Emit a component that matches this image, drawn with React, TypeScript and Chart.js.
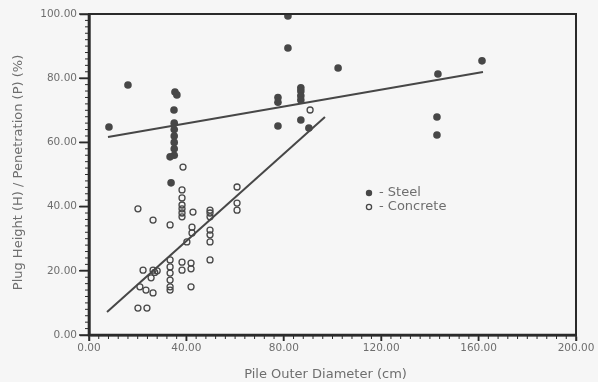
import React, { useEffect, useRef } from 'react';
import { Chart, registerables } from 'chart.js';

Chart.register(...registerables);

// ---- data ----
const steelX = [8.2, 16.0, 35.3, 36.1, 34.9, 35.0, 35.0, 35.0, 35.0, 35.0, 35.0, 33.3, 33.7, 81.7, 81.7, 102.3, 77.6, 77.6, 87.0, 87.0, 87.0, 87.0, 77.6, 87.0, 90.3, 161.4, 143.3, 142.9, 142.9];
const steelY = [64.8, 77.9, 75.7, 74.8, 70.1, 66.0, 64.0, 62.0, 60.0, 58.0, 56.0, 55.5, 47.4, 99.4, 89.4, 83.2, 74.0, 72.5, 77.0, 76.0, 74.5, 73.2, 65.1, 67.0, 64.5, 85.4, 81.3, 67.9, 62.3];

const concreteX = [20.1, 26.3, 33.3, 38.6, 38.2, 38.2, 38.2, 38.2, 38.2, 38.2, 42.7, 42.3, 42.3, 40.2, 49.7, 49.7, 49.7, 49.7, 49.7, 49.7, 49.7, 38.2, 38.2, 41.9, 41.9, 41.9, 33.3, 33.3, 33.3, 33.3, 33.3, 33.3, 22.2, 26.3, 25.5, 27.0, 28.0, 20.9, 23.4, 26.3, 20.1, 23.8, 60.8, 60.8, 60.8, 90.8];
const concreteY = [39.3, 35.8, 34.3, 52.3, 45.2, 42.7, 40.5, 39.3, 38.0, 36.8, 38.3, 33.6, 31.8, 29.0, 38.9, 38.0, 36.8, 32.7, 31.2, 29.0, 23.4, 22.7, 20.2, 22.4, 20.6, 15.0, 23.4, 21.2, 19.3, 17.1, 15.0, 14.0, 20.2, 20.2, 17.8, 19.5, 20.0, 15.0, 14.0, 13.1, 8.4, 8.4, 46.1, 41.1, 38.9, 70.1];

const steelFitX = [7.8, 161.8];
const steelFitY = [61.7, 81.9];
const concreteFitX = [7.4, 96.9];
const concreteFitY = [7.2, 67.9];

const xMin = 0;
const xMax = 200;
const xMajorStep = 40;
const xMinorStep = 4;
const yMin = 0;
const yMax = 100;
const yMajorStep = 20;
const yMinorStep = 2;

const xTitle = 'Pile Outer Diameter (cm)';
const yTitle = 'Plug Height (H) / Penetration (P) (%)';
const legendLabels = ['- Steel', '- Concrete'];

const INK = '#474747';
const AXIS = '#2a2a2a';
const TEXT = '#6e6e6e';
const BG = '#f6f6f6';
const FONT = '"DejaVu Sans", sans-serif';

const toPoints = (xs: number[], ys: number[]) => xs.map((x, i) => ({ x, y: ys[i] }));

const decorPlugin = {
  id: 'decor',
  beforeDraw(chart: any) {
    const ctx = chart.ctx;
    ctx.save();
    ctx.fillStyle = BG;
    ctx.fillRect(0, 0, chart.width, chart.height);
    ctx.restore();
  },
  afterDraw(chart: any) {
    const ctx = chart.ctx;
    const { left, right, top, bottom } = chart.chartArea;
    const xs = chart.scales.x;
    const ys = chart.scales.y;

    // y title
    ctx.save();
    ctx.font = `13px ${FONT}`;
    ctx.fillStyle = TEXT;
    ctx.textAlign = 'center';
    ctx.textBaseline = 'middle';
    ctx.translate(19, (top + bottom) / 2 - 2);
    ctx.rotate(-Math.PI / 2);
    ctx.fillText(yTitle, 0, 0);
    ctx.restore();

    // x title
    ctx.save();
    ctx.font = `13px ${FONT}`;
    ctx.fillStyle = TEXT;
    ctx.textAlign = 'center';
    ctx.textBaseline = 'middle';
    ctx.fillText(xTitle, (left + right) / 2 - 7, 375);
    ctx.restore();

    // legend
    const lx = left + 280;
    const ly = top + 179;
    ctx.save();
    ctx.fillStyle = INK;
    ctx.beginPath();
    ctx.arc(lx, ly, 3.2, 0, Math.PI * 2);
    ctx.fill();
    ctx.strokeStyle = INK;
    ctx.lineWidth = 1.3;
    ctx.beginPath();
    ctx.arc(lx, ly + 14, 2.6, 0, Math.PI * 2);
    ctx.stroke();
    ctx.font = `13px ${FONT}`;
    ctx.fillStyle = TEXT;
    ctx.textAlign = 'left';
    ctx.textBaseline = 'top';
    ctx.fillText(legendLabels[0], lx + 10, ly - 7);
    ctx.fillText(legendLabels[1], lx + 10, ly + 7);
    ctx.restore();

    // ticks and axes, drawn last
    ctx.save();
    ctx.setLineDash([]);
    ctx.strokeStyle = AXIS;
    for (let v = xMin; v <= xMax; v += xMinorStep) {
      const px = xs.getPixelForValue(v);
      const major = v % xMajorStep === 0;
      ctx.lineWidth = major ? 1.5 : 1;
      ctx.beginPath();
      ctx.moveTo(px, bottom);
      ctx.lineTo(px, bottom + (major ? 6 : 4));
      ctx.stroke();
    }
    for (let v = yMin; v <= yMax; v += yMinorStep) {
      const py = ys.getPixelForValue(v);
      const major = v % yMajorStep === 0;
      ctx.lineWidth = major ? 1.5 : 1;
      ctx.beginPath();
      ctx.moveTo(left - (major ? 10 : 4), py);
      ctx.lineTo(left, py);
      ctx.stroke();
    }
    ctx.lineWidth = 2.6;
    ctx.beginPath();
    ctx.moveTo(left, top);
    ctx.lineTo(left, bottom);
    ctx.lineTo(right, bottom);
    ctx.stroke();
    ctx.lineWidth = 2;
    ctx.beginPath();
    ctx.moveTo(left, top);
    ctx.lineTo(right, top);
    ctx.lineTo(right, bottom);
    ctx.stroke();
    ctx.restore();
  },
};

export default function App() {
  const ref = useRef<HTMLCanvasElement | null>(null);

  useEffect(() => {
    if (!ref.current) return;
    const chart = new Chart(ref.current, {
      type: 'scatter',
      data: {
        datasets: [
          { label: 'Steel', data: toPoints(steelX, steelY), pointRadius: 3.8, backgroundColor: INK, borderColor: INK, borderWidth: 0 },
          { label: 'Concrete', data: toPoints(concreteX, concreteY), pointRadius: 3, backgroundColor: 'rgba(0,0,0,0)', borderColor: INK, borderWidth: 1.3 },
          { type: 'line', label: 'Steel fit', data: toPoints(steelFitX, steelFitY), showLine: true, pointRadius: 0, borderColor: INK, borderWidth: 2, fill: false },
          { type: 'line', label: 'Concrete fit', data: toPoints(concreteFitX, concreteFitY), showLine: true, pointRadius: 0, borderColor: INK, borderWidth: 2, fill: false },
        ] as any,
      },
      options: {
        responsive: false,
        animation: false,
        events: [],
        layout: { padding: { top: 14, right: 22, left: 0, bottom: 0 } },
        plugins: { legend: { display: false }, tooltip: { enabled: false } },
        scales: {
          x: {
            type: 'linear', min: xMin, max: xMax,
            afterFit: (s: any) => { s.height = 47; },
            border: { display: true, color: AXIS, width: 2.6 },
            grid: { drawOnChartArea: false, drawTicks: true, tickLength: 6, tickColor: AXIS, tickWidth: 1.5 },
            ticks: { stepSize: xMajorStep, autoSkip: false, maxRotation: 0, padding: 1, color: TEXT, font: { family: FONT, size: 10.5 }, callback: (v: any) => Number(v).toFixed(2) },
          },
          y: {
            type: 'linear', min: yMin, max: yMax,
            afterFit: (s: any) => { s.width = 89; },
            border: { display: true, color: AXIS, width: 2.6 },
            grid: { drawOnChartArea: false, drawTicks: true, tickLength: 9, tickColor: AXIS, tickWidth: 1.5 },
            ticks: { stepSize: yMajorStep, autoSkip: false, padding: 3, color: TEXT, font: { family: FONT, size: 10.5 }, callback: (v: any) => Number(v).toFixed(2) },
          },
        },
      } as any,
      plugins: [decorPlugin],
    });
    return () => chart.destroy();
  }, []);

  return (
    <div style={{ position: 'fixed', left: 0, top: 0, width: 598, height: 382, background: BG }}>
      <canvas ref={ref} width={598} height={382} style={{ display: 'block' }} />
    </div>
  );
}
